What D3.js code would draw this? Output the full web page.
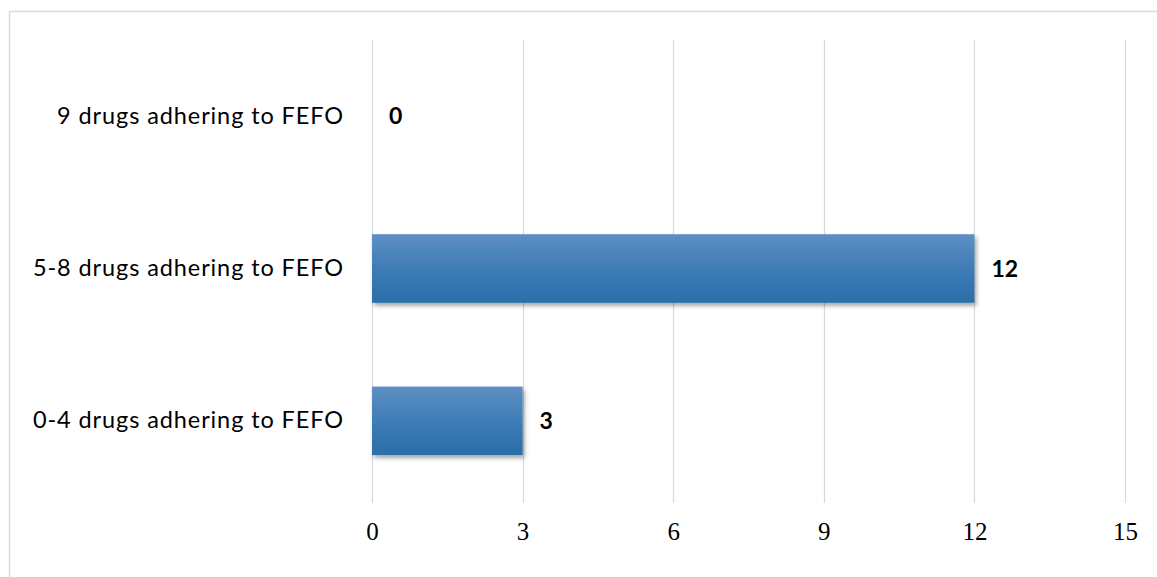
<!DOCTYPE html>
<html>
<head>
<meta charset="utf-8">
<script src="https://cdn.jsdelivr.net/npm/d3@7"></script>
<style>
html,body{margin:0;padding:0;background:#fff;}
svg{display:block;}
</style>
</head>
<body>
<svg id="chart" width="1157" height="577"></svg>
<script>
const categories = ["9 drugs adhering to FEFO", "5-8 drugs adhering to FEFO", "0-4 drugs adhering to FEFO"];
const values = [0, 12, 3];
const tickValues = [0, 3, 6, 9, 12, 15];

(function () {
const svg = d3.select("#chart");
const mLeft = 372, mRight = 1125, mTop = 40, mBottom = 497, gridBottom = 503;

// frame
svg.append("rect").attr("x", 9.5).attr("y", 11.5).attr("width", 1160).attr("height", 600)
  .attr("fill", "none").attr("stroke", "#d9d9d9").attr("stroke-width", 1.5);

const defs = svg.append("defs");
const grad = defs.append("linearGradient").attr("id", "barGrad").attr("x1", 0).attr("y1", 0).attr("x2", 0).attr("y2", 1);
grad.append("stop").attr("offset", "0%").attr("stop-color", "#5f8fc3");
grad.append("stop").attr("offset", "55%").attr("stop-color", "#3b7bb6");
grad.append("stop").attr("offset", "100%").attr("stop-color", "#2a6ea8");
const f = defs.append("filter").attr("id", "shadow").attr("x", "-5%").attr("y", "-20%").attr("width", "115%").attr("height", "150%");
f.append("feDropShadow").attr("dx", 2).attr("dy", 3).attr("stdDeviation", 2).attr("flood-color", "#000").attr("flood-opacity", 0.35);

const x = d3.scaleLinear().domain([0, 15]).range([mLeft, mRight]);
const y = d3.scaleBand().domain(categories).range([mTop, mBottom]).paddingInner(0.55).paddingOuter(0.275);

// gridlines
svg.append("g").selectAll("line").data(tickValues).join("line")
  .attr("x1", d => Math.round(x(d)) + 0.5).attr("x2", d => Math.round(x(d)) + 0.5)
  .attr("y1", mTop).attr("y2", gridBottom)
  .attr("stroke", "#d9d9d9").attr("stroke-width", 1.2);

// x tick labels
const xAxis = svg.append("g").attr("transform", `translate(0,${gridBottom})`)
  .call(d3.axisBottom(x).tickValues(tickValues).tickSize(0).tickPadding(26));
xAxis.select(".domain").remove();
xAxis.selectAll("text").attr("font-family", "'Liberation Serif', serif").attr("font-size", 25).attr("fill", "#000")
  .attr("dy", "0.45em");

// y category labels
const yAxis = svg.append("g").attr("transform", `translate(${mLeft},0)`)
  .call(d3.axisLeft(y).tickSize(0).tickPadding(28));
yAxis.select(".domain").remove();
yAxis.selectAll("text").attr("font-family", "Lato, 'Open Sans', sans-serif").attr("font-size", 23.5)
  .attr("letter-spacing", "0.9px").attr("fill", "#000");

// bars
svg.append("g").selectAll("rect").data(values).join("rect")
  .attr("x", x(0))
  .attr("y", (d, i) => y(categories[i]))
  .attr("width", d => x(d) - x(0))
  .attr("height", y.bandwidth())
  .attr("fill", "url(#barGrad)")
  .attr("filter", "url(#shadow)");

// value labels
svg.append("g").selectAll("text").data(values).join("text")
  .attr("x", d => x(d) + 17)
  .attr("y", (d, i) => y(categories[i]) + y.bandwidth() / 2)
  .attr("dy", "0.36em")
  .attr("font-family", "Lato, 'Open Sans', sans-serif")
  .attr("font-weight", "bold")
  .attr("font-size", 23)
  .attr("fill", "#000")
  .text(d => d);
})();
</script>
</body>
</html>
